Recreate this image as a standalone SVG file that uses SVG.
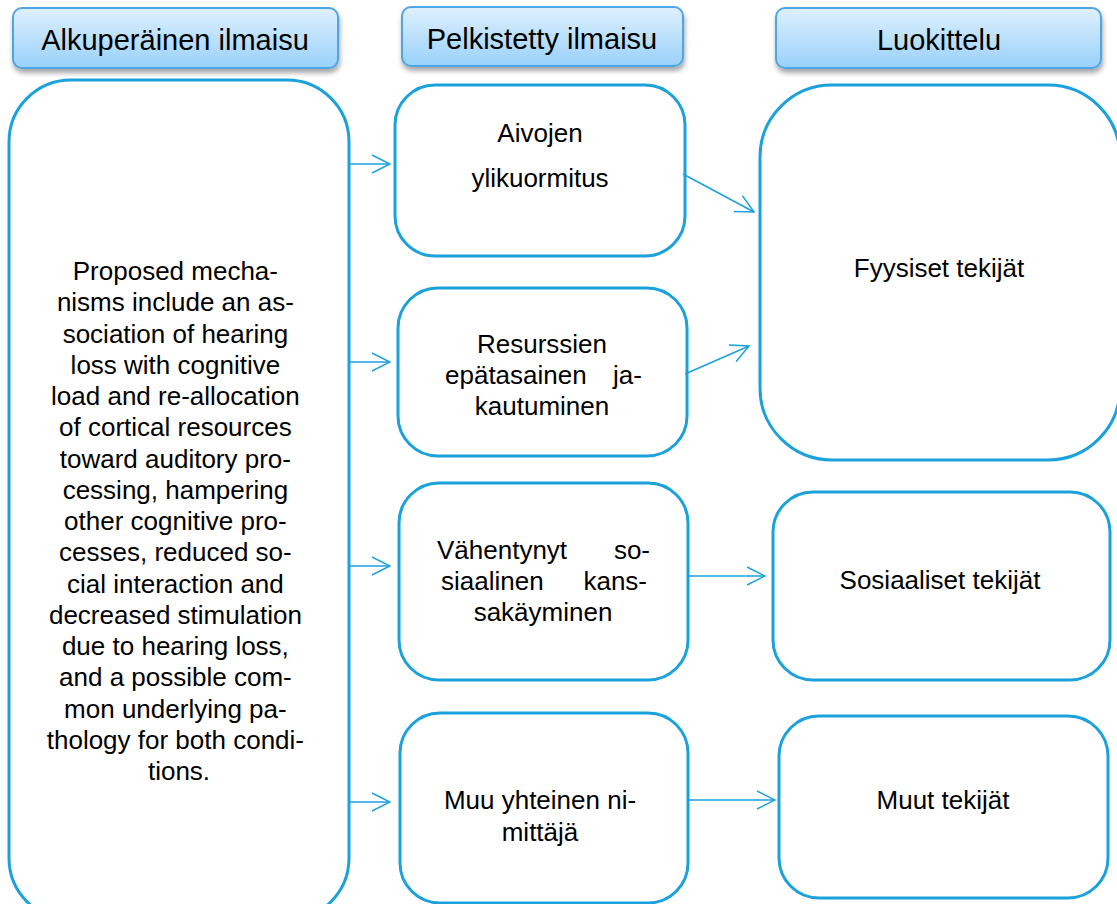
<svg xmlns="http://www.w3.org/2000/svg" width="1117" height="904" viewBox="0 0 1117 904">
<defs>
<linearGradient id="hg" x1="0" y1="0" x2="0" y2="1">
<stop offset="0" stop-color="#dff0fd"/>
<stop offset="1" stop-color="#99d1fb"/>
</linearGradient>
<filter id="sh" x="-10%" y="-20%" width="120%" height="160%">
<feGaussianBlur in="SourceAlpha" stdDeviation="2.5"/>
<feOffset dx="1" dy="4" result="b"/>
<feComponentTransfer><feFuncA type="linear" slope="0.35"/></feComponentTransfer>
<feMerge><feMergeNode/><feMergeNode in="SourceGraphic"/></feMerge>
</filter>
<marker id="ah" viewBox="0 0 20 20" refX="19" refY="10" markerWidth="20" markerHeight="20" markerUnits="userSpaceOnUse" orient="auto">
<path d="M1,1 L19,10 L1,19" fill="none" stroke="#1ba1dc" stroke-width="1.5"/>
</marker>
</defs>
<style>
.hdr{fill:url(#hg);stroke:#4ea6e6;stroke-width:2;filter:url(#sh)}
.box{fill:#fff;stroke:#1ba1dc;stroke-width:3}
.ht{font-family:"Liberation Sans",Arial,sans-serif;font-size:29px;fill:#000;text-anchor:middle}
.t{font-family:"Liberation Sans",Arial,sans-serif;font-size:26px;fill:#000;text-anchor:middle}
.s{text-anchor:start}
.e{text-anchor:end}
.c{fill:none;stroke:#1ba1dc;stroke-width:1.5;marker-end:url(#ah)}
</style>
<rect width="1117" height="904" fill="#fff"/>
<g id="header1"><rect class="hdr" x="13" y="8" width="325" height="60" rx="9"/><text class="ht" x="175" y="50">Alkuperäinen ilmaisu</text></g>
<g id="header2"><rect class="hdr" x="402" y="7" width="281" height="59" rx="9"/><text class="ht" x="542" y="49">Pelkistetty ilmaisu</text></g>
<g id="header3"><rect class="hdr" x="776" y="8" width="325" height="60" rx="9"/><text class="ht" x="939" y="50">Luokittelu</text></g>

<g id="original">
<rect class="box" x="9" y="80" width="340" height="840" rx="62"/>
<text class="t">
<tspan x="179" y="280">Proposed mecha-</tspan>
<tspan x="179" y="311.25">nisms include an as-</tspan>
<tspan x="179" y="342.5">sociation of hearing</tspan>
<tspan x="179" y="373.75">loss with cognitive</tspan>
<tspan x="179" y="405">load and re-allocation</tspan>
<tspan x="179" y="436.25">of cortical resources</tspan>
<tspan x="179" y="467.5">toward auditory pro-</tspan>
<tspan x="179" y="498.75">cessing, hampering</tspan>
<tspan x="179" y="530">other cognitive pro-</tspan>
<tspan x="179" y="561.25">cesses, reduced so-</tspan>
<tspan x="179" y="592.5">cial interaction and</tspan>
<tspan x="179" y="623.75">decreased stimulation</tspan>
<tspan x="179" y="655">due to hearing loss,</tspan>
<tspan x="179" y="686.25">and a possible com-</tspan>
<tspan x="179" y="717.5">mon underlying pa-</tspan>
<tspan x="179" y="748.75">thology for both condi-</tspan>
<tspan x="179" y="780">tions.</tspan>
</text>
</g>

<g id="aivojen"><rect class="box" x="395" y="85" width="290" height="171" rx="40"/>
<text class="t"><tspan x="540" y="142">Aivojen</tspan><tspan x="540" y="187">ylikuormitus</tspan></text></g>

<g id="resurssien"><rect class="box" x="398" y="288" width="289" height="168" rx="40"/>
<text class="t"><tspan x="542" y="353">Resurssien</tspan></text>
<text class="t s" x="445" y="384">epätasainen</text><text class="t e" x="642" y="384">ja-</text>
<text class="t" x="542" y="415">kautuminen</text></g>

<g id="vahentynyt"><rect class="box" x="399" y="483" width="289" height="197" rx="40"/>
<text class="t s" x="437" y="559">Vähentynyt</text><text class="t e" x="650" y="559">so-</text>
<text class="t s" x="441" y="589.5">siaalinen</text><text class="t e" x="647" y="589.5">kans-</text>
<text class="t" x="543" y="620.5">sakäyminen</text></g>

<g id="muu"><rect class="box" x="400" y="713" width="288" height="190" rx="40"/>
<text class="t"><tspan x="540" y="809">Muu yhteinen ni-</tspan><tspan x="540" y="841">mittäjä</tspan></text></g>

<g id="fyysiset"><rect class="box" x="760" y="85" width="360" height="375" rx="72"/>
<text class="t" x="939" y="277">Fyysiset tekijät</text></g>

<g id="sosiaaliset"><rect class="box" x="773" y="492" width="337" height="188" rx="40"/>
<text class="t" x="940" y="589">Sosiaaliset tekijät</text></g>

<g id="muut"><rect class="box" x="779" y="716" width="329" height="182" rx="40"/>
<text class="t" x="943" y="809">Muut tekijät</text></g>

<g id="connectors">
<line class="c" x1="350" y1="164" x2="390" y2="164"/>
<line class="c" x1="350" y1="362" x2="390" y2="362"/>
<line class="c" x1="350" y1="566" x2="390" y2="566"/>
<line class="c" x1="350" y1="802" x2="390" y2="802"/>
<line class="c" x1="683" y1="174" x2="754" y2="212"/>
<line class="c" x1="685" y1="374" x2="749" y2="346"/>
<line class="c" x1="688" y1="576" x2="765" y2="576"/>
<line class="c" x1="688" y1="800" x2="775" y2="800"/>
</g>
</svg>
